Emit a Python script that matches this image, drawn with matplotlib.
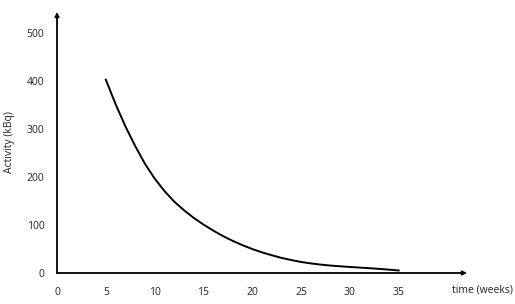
import matplotlib.pyplot as plt

# values, one per week
weeks = list(range(5, 36))
activity = [403, 352, 306, 265, 228, 197, 171, 149, 131, 115,
            101, 88.5, 77, 67, 58, 50, 43, 37, 31.5, 27,
            23, 20, 17.5, 15.5, 14, 12.6, 11.3, 10, 8.6, 7, 5.3]
x_ticks = [0, 5, 10, 15, 20, 25, 30, 35]
y_ticks = [0, 100, 200, 300, 400, 500]

plt.rcParams['font.family'] = ['Open Sans', 'DejaVu Sans']

fig = plt.figure(figsize=(5.15, 3.04), dpi=100)
ax = fig.add_axes([57 / 515, 31 / 304, 410 / 515, 261 / 304])
ax.plot(weeks, activity, color="black", lw=1.4, solid_joinstyle="round")

ax.set_xlim(0, 42)
ax.set_ylim(0, 544)
for s in ax.spines.values():
    s.set_visible(False)

# axes drawn as arrows
ax.annotate("", xy=(1, 0), xytext=(0, 0), xycoords="axes fraction",
            arrowprops=dict(arrowstyle="-|>", color="black", lw=1.3,
                            mutation_scale=6, shrinkA=0, shrinkB=0))
ax.annotate("", xy=(0, 1), xytext=(0, 0), xycoords="axes fraction",
            arrowprops=dict(arrowstyle="-|>", color="black", lw=1.3,
                            mutation_scale=6, shrinkA=0, shrinkB=0))

ax.set_xticks(x_ticks)
ax.set_yticks(y_ticks)
ax.tick_params(length=0, labelsize=7.5, colors="#222222")
ax.tick_params(axis="x", pad=10)
ax.tick_params(axis="y", pad=9)

fig.text(10 / 515, 1 - 142 / 304, "Activity (kBq)", fontsize=7.5,
         rotation=90, ha="center", va="center", color="#222222")
fig.text(0.995, 14 / 304, "time (weeks)", fontsize=7.5, ha="right",
         va="center", color="#222222")

fig.savefig("out.png", dpi=100)
